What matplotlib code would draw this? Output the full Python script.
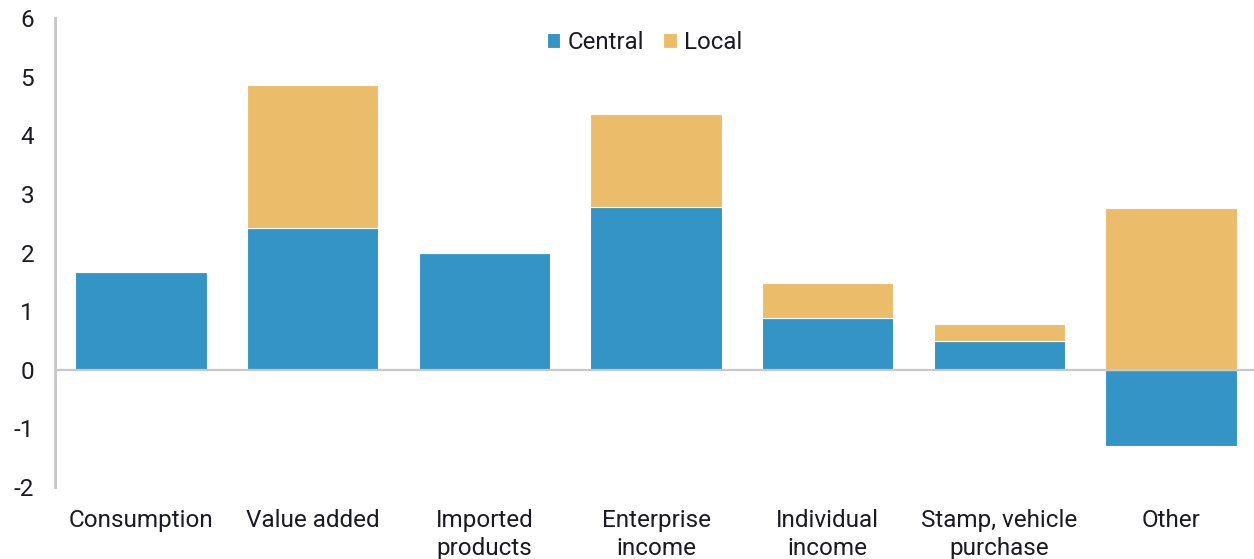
import matplotlib
matplotlib.use("Agg")
import matplotlib.pyplot as plt
import numpy as np

categories = ["Consumption", "Value added", "Imported\nproducts", "Enterprise\nincome",
              "Individual\nincome", "Stamp, vehicle\npurchase", "Other"]
central = [1.67, 2.42, 2.00, 2.78, 0.89, 0.49, -1.30]
local = [0.00, 2.44, 0.00, 1.59, 0.59, 0.29, 2.76]
yticks = [-2, -1, 0, 1, 2, 3, 4, 5, 6]

BLUE = "#3394c5"
GOLD = "#ebbc6a"
GREY = "#c8c8c8"
TEXT = "#1a1a22"

plt.rcParams["font.family"] = ["Roboto", "DejaVu Sans"]

fig = plt.figure(figsize=(12.54, 5.59), dpi=100)
ax = fig.add_axes([55 / 1254, 1 - 487 / 559, 1202 / 1254, (487 - 18) / 559])

x = np.arange(len(categories))
central_arr = np.array(central)
local_arr = np.array(local)
local_base = np.where(central_arr > 0, central_arr, 0)

ax.bar(x, central_arr, width=0.765, color=BLUE, edgecolor="white", linewidth=0.8,
       label="Central", zorder=2)
ax.bar(x, local_arr, width=0.765, bottom=local_base, color=GOLD, edgecolor="white",
       linewidth=0.8, label="Local", zorder=2)

ax.axhline(0, color=GREY, linewidth=1.6, zorder=3)

ax.set_xlim(-0.5, len(categories) - 0.5)
ax.set_ylim(-2, 6)
ax.set_yticks(yticks)
ax.set_yticklabels([str(v) for v in yticks])
ax.set_xticks(x)
ax.set_xticklabels(categories, linespacing=1.3)

for s in ["top", "right", "bottom"]:
    ax.spines[s].set_visible(False)
ax.spines["left"].set_color(GREY)
ax.spines["left"].set_linewidth(2.2)

ax.tick_params(axis="y", length=0, pad=15, labelsize=17.5, labelcolor=TEXT)
ax.tick_params(axis="x", length=0, pad=15.5, labelsize=17.5, labelcolor=TEXT)

leg = ax.legend(loc="upper center", bbox_to_anchor=(0.4905, 1.003), ncol=2, frameon=False,
                fontsize=17.3, handlelength=0.55, handleheight=0.55, handletextpad=0.3,
                columnspacing=0.8, borderaxespad=0.2)
for t in leg.get_texts():
    t.set_color(TEXT)

fig.savefig("out.png", dpi=100)
